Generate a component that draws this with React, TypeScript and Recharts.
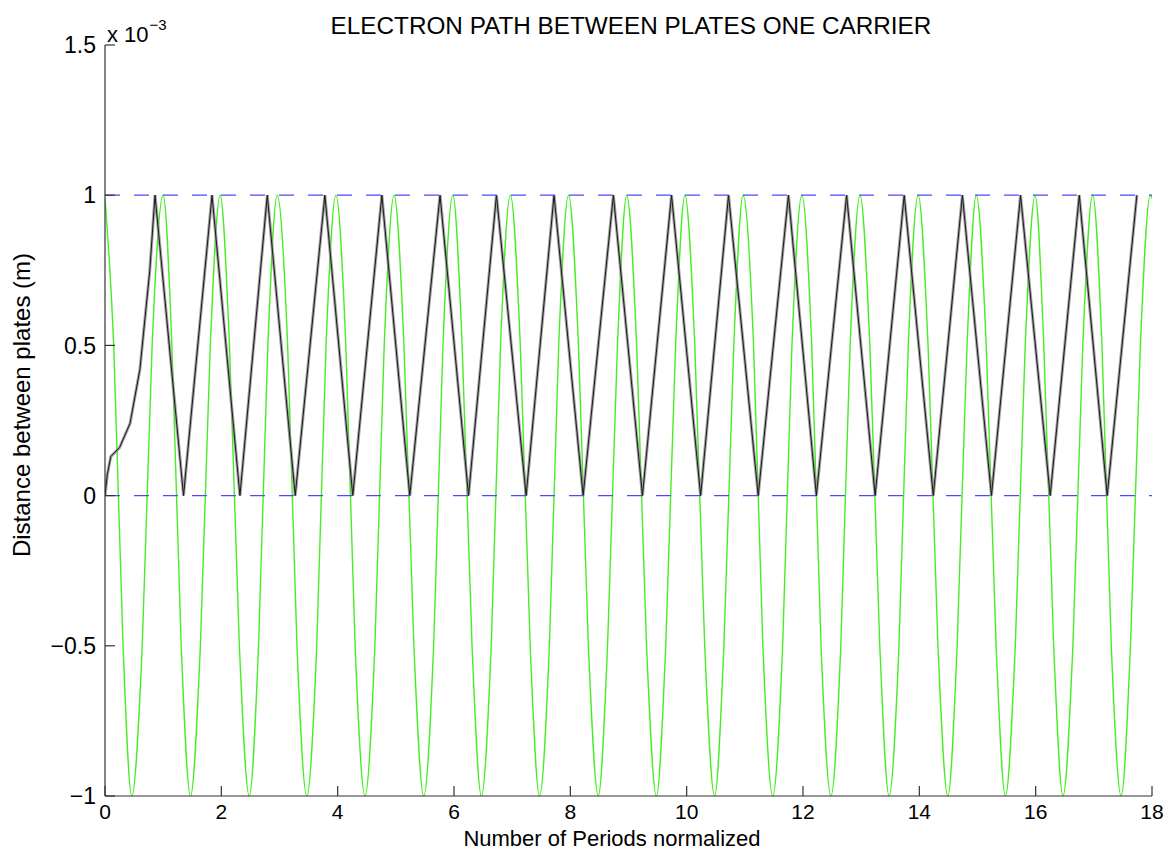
import React from 'react';
import { LineChart, Line, XAxis, YAxis, ReferenceLine } from 'recharts';

// Axis ticks
const xTicks = [0, 2, 4, 6, 8, 10, 12, 14, 16, 18];
const yTicks = [-1, -0.5, 0, 0.5, 1, 1.5];
// Plate positions (x 10^-3 m)
const plateLevels = [0, 1];

// Carrier (green), values in units of 1e-3 m
const greenX = [
  0, 0.15, 0.31, 0.46, 0.64, 0.81, 1.0,
  1.15, 1.31, 1.47, 1.64, 1.81, 1.98,
  2.14, 2.31, 2.48, 2.64, 2.8, 2.96,
  3.14, 3.3, 3.47, 3.64, 3.8, 3.97,
  4.14, 4.3, 4.47, 4.64, 4.8, 4.97,
  5.14, 5.31, 5.48, 5.65, 5.81, 5.98,
  6.14, 6.31, 6.47, 6.64, 6.8, 6.97,
  7.14, 7.31, 7.47, 7.64, 7.8, 7.97,
  8.14, 8.31, 8.48, 8.64, 8.81, 8.97,
  9.14, 9.31, 9.48, 9.64, 9.81, 9.97,
  10.14, 10.31, 10.48, 10.64, 10.81, 10.97,
  11.15, 11.31, 11.48, 11.65, 11.81, 11.98,
  12.15, 12.31, 12.48, 12.65, 12.81, 12.98,
  13.15, 13.32, 13.48, 13.65, 13.81, 13.98,
  14.15, 14.32, 14.49, 14.65, 14.82, 14.98,
  15.15, 15.32, 15.48, 15.65, 15.82, 15.99,
  16.14, 16.31, 16.47, 16.64, 16.81, 16.98,
  17.14, 17.3, 17.47, 17.63, 17.8, 17.97,
  18.0,
];
const greenY = [
  0.99, 0.5, -0.5, -1, -0.5, 0.5, 1,
  0.5, -0.5, -1, -0.5, 0.5, 1,
  0.5, -0.5, -1, -0.5, 0.5, 1,
  0.5, -0.5, -1, -0.5, 0.5, 1,
  0.5, -0.5, -1, -0.5, 0.5, 1,
  0.5, -0.5, -1, -0.5, 0.5, 1,
  0.5, -0.5, -1, -0.5, 0.5, 1,
  0.5, -0.5, -1, -0.5, 0.5, 1,
  0.5, -0.5, -1, -0.5, 0.5, 1,
  0.5, -0.5, -1, -0.5, 0.5, 1,
  0.5, -0.5, -1, -0.5, 0.5, 1,
  0.5, -0.5, -1, -0.5, 0.5, 1,
  0.5, -0.5, -1, -0.5, 0.5, 1,
  0.5, -0.5, -1, -0.5, 0.5, 1,
  0.5, -0.5, -1, -0.5, 0.5, 1,
  0.5, -0.5, -1, -0.5, 0.5, 1,
  0.5, -0.5, -1, -0.5, 0.5, 1,
  0.5, -0.5, -1, -0.5, 0.5, 1,
  0.99,
];

// Electron path (black), values in units of 1e-3 m
const electronX = [
  0, 0.04, 0.1, 0.25, 0.43, 0.6, 0.77, 0.86,
  1.35, 1.84, 2.32, 2.79, 3.27, 3.78, 4.26, 4.76, 5.24, 5.76,
  6.25, 6.73, 7.24, 7.72, 8.22, 8.74, 9.24, 9.74, 10.24, 10.72,
  11.23, 11.75, 12.23, 12.75, 13.24, 13.74, 14.24, 14.74, 15.24, 15.74,
  16.25, 16.75, 17.23, 17.74,
];
const electronY = [
  0, 0.07, 0.13, 0.16, 0.24, 0.42, 0.75, 1,
  0, 1, 0, 1, 0, 1, 0, 1, 0, 1,
  0, 1, 0, 1, 0, 1, 0, 1, 0, 1,
  0, 1, 0, 1, 0, 1, 0, 1, 0, 1,
  0, 1, 0, 1,
];

const greenData = greenX.map((x, i) => ({ x, y: greenY[i] }));
const electronData = electronX.map((x, i) => ({ x, y: electronY[i] }));

const W = 1173;
const H = 852;
const FONT = '"Liberation Sans", Arial, Helvetica, sans-serif';
const AXIS = '#333333';

const fmtY = (v: number) => (v < 0 ? '\u2212' + String(Math.abs(v)) : String(v));

export default function App() {
  return (
    <div
      style={{
        position: 'absolute',
        left: 0,
        top: 0,
        width: W,
        height: H,
        background: '#ffffff',
        fontFamily: FONT,
        color: '#000',
      }}
    >
      <LineChart width={W} height={H} margin={{ top: 45, right: 21, bottom: 0, left: 0 }}>
        <XAxis
          type="number"
          dataKey="x"
          domain={[0, 18]}
          ticks={xTicks}
          interval={0}
          allowDataOverflow
          height={56}
          tickSize={-10}
          tickMargin={18}
          axisLine={{ stroke: AXIS, strokeWidth: 1.2 }}
          tickLine={{ stroke: AXIS, strokeWidth: 1.2 }}
          tick={{ fill: '#000', fontSize: 21, fontFamily: FONT }}
        />
        <YAxis
          type="number"
          domain={[-1, 1.5]}
          ticks={yTicks}
          interval={0}
          allowDataOverflow
          width={105}
          tickSize={-10}
          tickMargin={19}
          tickFormatter={fmtY}
          axisLine={{ stroke: AXIS, strokeWidth: 1.2 }}
          tickLine={{ stroke: AXIS, strokeWidth: 1.2 }}
          tick={{ fill: '#000', fontSize: 23, fontFamily: FONT }}
        />
        <Line
          data={greenData}
          dataKey="y"
          type="monotone"
          stroke="#45ee22"
          strokeWidth={1.4}
          dot={false}
          activeDot={false}
          isAnimationActive={false}
        />
        <Line
          data={electronData}
          dataKey="y"
          type="linear"
          stroke="#8c8c8c"
          strokeWidth={3}
          strokeOpacity={0.8}
          dot={false}
          activeDot={false}
          isAnimationActive={false}
        />
        <Line
          data={electronData}
          dataKey="y"
          type="linear"
          stroke="#1a1a1a"
          strokeWidth={1}
          dot={false}
          activeDot={false}
          isAnimationActive={false}
        />
        {plateLevels.map((lv) => (
          <ReferenceLine
            key={lv}
            y={lv}
            stroke="#4b4bff"
            strokeWidth={1.3}
            strokeDasharray="15 14"
          />
        ))}
      </LineChart>

      <div
        style={{
          position: 'absolute',
          left: 131,
          top: 14,
          width: 1000,
          textAlign: 'center',
          fontSize: 24.3,
          lineHeight: '24px',
          whiteSpace: 'nowrap',
        }}
      >
        ELECTRON PATH BETWEEN PLATES ONE CARRIER
      </div>

      <div
        style={{
          position: 'absolute',
          left: 107,
          top: 24,
          fontSize: 22,
          lineHeight: '22px',
          whiteSpace: 'nowrap',
        }}
      >
        x 10
        <span style={{ position: 'relative', top: -12, fontSize: 15, marginLeft: 1 }}>{'\u22123'}</span>
      </div>

      <div
        style={{
          position: 'absolute',
          left: 112,
          top: 829,
          width: 1000,
          height: 20,
          textAlign: 'center',
          fontSize: 22,
          lineHeight: '20px',
          whiteSpace: 'nowrap',
        }}
      >
        Number of Periods normalized
      </div>

      <div
        style={{
          position: 'absolute',
          left: 22 - 250,
          top: 405 - 12,
          width: 500,
          height: 24,
          textAlign: 'center',
          fontSize: 24,
          lineHeight: '24px',
          whiteSpace: 'nowrap',
          transform: 'rotate(-90deg)',
          transformOrigin: '250px 12px',
        }}
      >
        Distance between plates (m)
      </div>
    </div>
  );
}
